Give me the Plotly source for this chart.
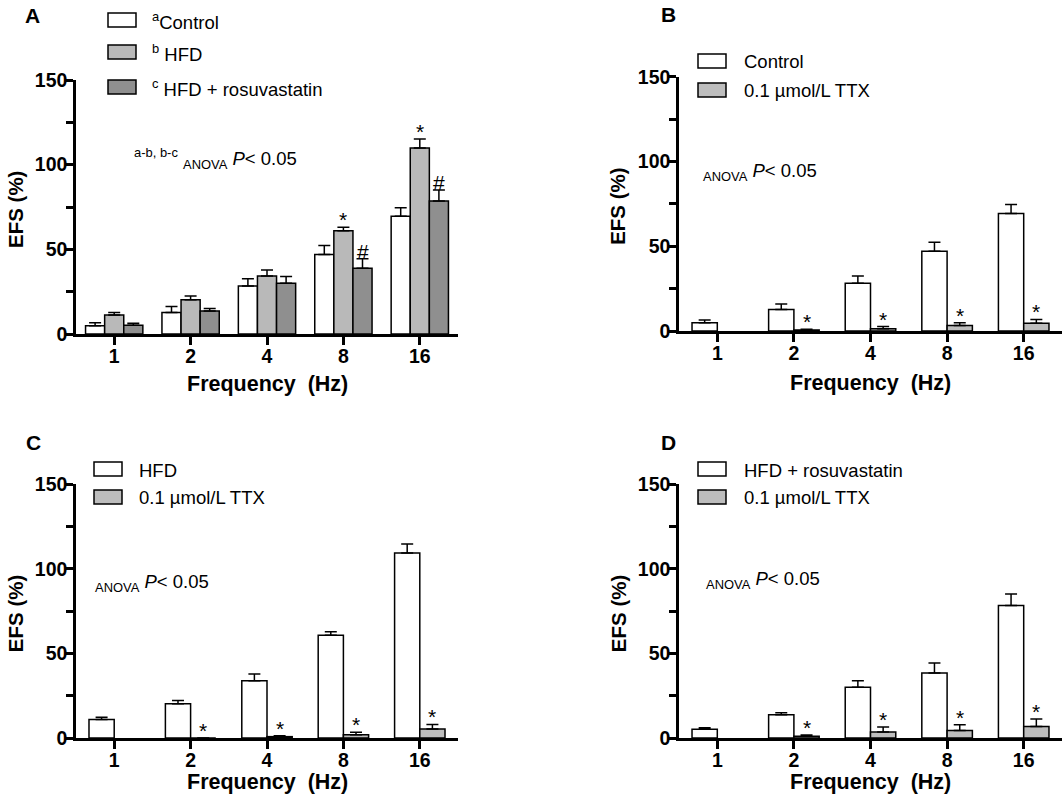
import plotly.graph_objects as go

freqs = ["1", "2", "4", "8", "16"]

# panel A: three groups
a_control = [4.9, 12.7, 28.4, 47.0, 69.5]
a_control_err = [1.8, 3.5, 4.3, 5.3, 5.0]
a_hfd = [11.2, 20.2, 34.3, 61.0, 109.8]
a_hfd_err = [1.5, 2.3, 3.5, 2.0, 5.3]
a_rosu = [5.2, 13.6, 30.0, 38.8, 78.6]
a_rosu_err = [1.2, 1.4, 4.0, 5.6, 6.5]
a_hfd_marks = ["", "", "", "*", "*"]
a_rosu_marks = ["", "", "", "#", "#"]

# panel B: control vs TTX
b_control = [4.9, 12.7, 28.2, 47.0, 69.3]
b_control_err = [1.6, 3.2, 4.2, 5.3, 5.3]
b_ttx = [None, 0.6, 1.4, 3.3, 4.6]
b_ttx_err = [0, 0.4, 1.2, 1.6, 2.2]

# panel C: HFD vs TTX
c_hfd = [10.9, 20.2, 33.9, 60.8, 109.4]
c_hfd_err = [1.4, 2.0, 3.9, 2.0, 5.3]
c_ttx = [None, 0.0, 0.8, 1.9, 5.3]
c_ttx_err = [0, 0, 0.5, 1.5, 2.7]

# panel D: HFD + rosuvastatin vs TTX
d_rosu = [5.1, 13.7, 30.0, 38.4, 78.4]
d_rosu_err = [1.0, 1.2, 3.9, 5.9, 6.7]
d_ttx = [None, 1.0, 3.5, 4.5, 6.8]
d_ttx_err = [0, 0.7, 3.0, 3.3, 4.4]
ttx_marks = ["", "*", "*", "*", "*"]

y_ticks = [0, 25, 50, 75, 100, 125, 150]
y_ticktext = ["0", "", "50", "", "100", "", "150"]

W, H = 1064, 802
FONT = "Liberation Sans"
WHITE, LIGHT, DARK, TTX = "#ffffff", "#b9b9b9", "#8f8f8f", "#bdbdbd"


def px(x):
    return x / W


def py(y):
    return 1 - y / H


pos = list(range(len(freqs)))
fig = go.Figure()
annotations = []
shapes = []


def add_text(x, y, text, size, bold=False, xanchor="center", angle=0):
    font = dict(family=FONT, size=size, color="black")
    if bold:
        font["weight"] = "bold"
    annotations.append(dict(x=px(x), y=py(y), xref="paper", yref="paper", text=text,
                            showarrow=False, xanchor=xanchor, yanchor="middle",
                            textangle=angle, font=font))


def add_bars(vals, errs, color, offset, width, ax, marks=None):
    xs = "x" if ax == 1 else "x%d" % ax
    ys = "y" if ax == 1 else "y%d" % ax
    fig.add_trace(go.Bar(
        x=pos, y=vals, width=width, offset=offset, xaxis=xs, yaxis=ys,
        marker=dict(color=color, line=dict(color="black", width=1.5)),
        error_y=dict(type="data", array=errs, arrayminus=[0] * len(errs),
                     symmetric=False, color="black", thickness=1.5, width=6),
    ))
    if marks:
        for i, m in enumerate(marks):
            if not m:
                continue
            v = (vals[i] or 0) + errs[i]
            annotations.append(dict(
                x=pos[i] + offset + width / 2, y=v, xref=xs, yref=ys,
                text=m, showarrow=False, xanchor="center", yanchor="bottom", yshift=-6,
                font=dict(family=FONT, size=21, color="black")))


add_bars(a_control, a_control_err, WHITE, -0.375, 0.25, 1)
add_bars(a_hfd, a_hfd_err, LIGHT, -0.125, 0.25, 1, a_hfd_marks)
add_bars(a_rosu, a_rosu_err, DARK, 0.125, 0.25, 1, a_rosu_marks)

bw = 0.33
add_bars(b_control, b_control_err, WHITE, -bw, bw, 2)
add_bars(b_ttx, b_ttx_err, TTX, 0, bw, 2, ttx_marks)
add_bars(c_hfd, c_hfd_err, WHITE, -bw, bw, 3)
add_bars(c_ttx, c_ttx_err, TTX, 0, bw, 3, ttx_marks)
add_bars(d_rosu, d_rosu_err, WHITE, -bw, bw, 4)
add_bars(d_ttx, d_ttx_err, TTX, 0, bw, 4, ttx_marks)

# panel geometry (pixels): x-axis left/right, y of 0 and of 150, title gap
panels = {
    1: (76, 458, 334, 80, 50),
    2: (679, 1062, 331, 76.7, 52),
    3: (76, 458, 738, 484.3, 44),
    4: (679, 1062, 738, 484.3, 44),
}
tickfont = dict(family=FONT, size=19.5, color="black", weight="bold")
for k, (x0, x1, y0, y1, gap) in panels.items():
    sfx = "" if k == 1 else str(k)
    fig.layout["xaxis" + sfx] = dict(
        domain=[px(x0), px(x1)], range=[-0.5, 4.5], anchor="y" + sfx,
        tickvals=pos, ticktext=freqs, showline=True, linecolor="black",
        linewidth=2.5, ticks="outside", ticklen=8, tickwidth=2.5,
        tickcolor="black", showgrid=False, zeroline=False, tickfont=tickfont,
        automargin=False, ticklabelstandoff=-5)
    fig.layout["yaxis" + sfx] = dict(
        domain=[py(y0), py(y1)], range=[0, 150], anchor="x" + sfx,
        tickvals=y_ticks, ticktext=y_ticktext, showline=True, linecolor="black",
        linewidth=2.5, ticks="outside", ticklen=7, tickwidth=2.5,
        tickcolor="black", showgrid=False, zeroline=False, tickfont=tickfont,
        automargin=False, ticklabelstandoff=-5)
    add_text((x0 + x1) / 2, y0 + gap, "Frequency  (Hz)", 21.5, bold=True)
    add_text(x0 - 61, (y0 + y1) / 2 + 3, "EFS (%)", 20.5, bold=True, angle=-90)

# panel letters
for letter, (lx, ly) in zip("ABCD", [(32, 15), (668, 14), (33, 442), (668, 442)]):
    add_text(lx, ly, letter, 21, bold=True)

# legends drawn as swatches + labels
legends = [
    (108, 150, [(20, WHITE, "<sup>a</sup>Control"), (52, LIGHT, "<sup>b</sup> HFD"),
                (87, DARK, "<sup>c</sup> HFD + rosuvastatin")]),
    (698, 742, [(61, WHITE, "Control"), (90, TTX, "0.1 µmol/L TTX")]),
    (94, 137, [(469, WHITE, "HFD"), (497, TTX, "0.1 µmol/L TTX")]),
    (698, 742, [(469, WHITE, "HFD + rosuvastatin"), (497, TTX, "0.1 µmol/L TTX")]),
]
for bx, tx, rows in legends:
    for cy, col, label in rows:
        shapes.append(dict(type="rect", xref="paper", yref="paper",
                           x0=px(bx), x1=px(bx + 28), y0=py(cy + 7), y1=py(cy - 7),
                           fillcolor=col, line=dict(color="black", width=1.5)))
        add_text(tx, cy + 1, label, 18.5, xanchor="left")

# ANOVA notes
notes = [
    (132, 158, "<sup>a-b, b-c</sup> <sub>ANOVA</sub> <i>P</i>&lt; 0.05"),
    (701, 172, "<sub>ANOVA</sub> <i>P</i>&lt; 0.05"),
    (93, 583, "<sub>ANOVA</sub> <i>P</i>&lt; 0.05"),
    (704, 580, "<sub>ANOVA</sub> <i>P</i>&lt; 0.05"),
]
for nx, ny, txt in notes:
    add_text(nx, ny, txt, 18.5, xanchor="left")

fig.update_layout(
    width=W, height=H, margin=dict(l=0, r=0, t=0, b=0, pad=0),
    paper_bgcolor="white", plot_bgcolor="white", showlegend=False,
    barmode="overlay", annotations=annotations, shapes=shapes,
)

# drop the default 8px body margin so the figure fills the window exactly
fig.write_html("out.html", config={"displayModeBar": False},
               post_script="document.body.style.margin='0';")
